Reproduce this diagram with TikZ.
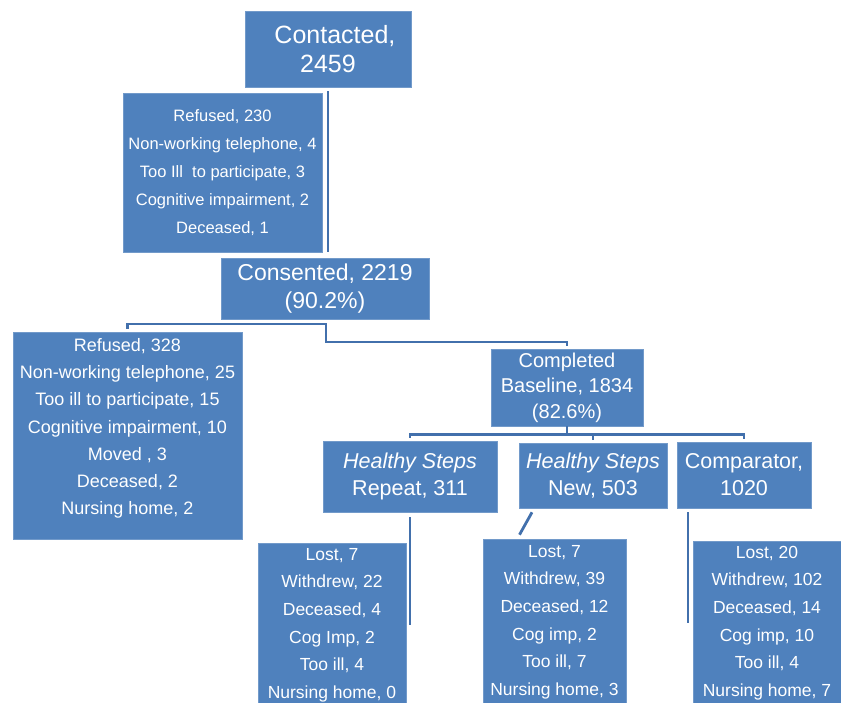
\documentclass[tikz,border=0pt]{standalone}
\usepackage{xcolor}
\usepackage{fontspec}
\setmainfont{Liberation Sans}
\definecolor{boxblue}{HTML}{4F81BD}
\definecolor{lineblue}{HTML}{4270AC}
\newcommand{\fs}[2]{\fontsize{#1}{#2}\selectfont}

\begin{document}
\begin{tikzpicture}[x=1pt,y=-1pt,
      box/.style={rectangle,fill=boxblue,draw=boxblue!80!white,line width=0.6pt,
        text=white,align=center,inner sep=0pt},
      link/.style={draw=lineblue,line width=2.8pt}]
      \useasboundingbox (0,0) rectangle (841,703);
      \begin{scope}
      \clip (0,0) rectangle (841,703);
      % top of the flow
      \node[box,minimum width=166,minimum height=76,font=\fs{25}{29}] (contacted) at (328,49) {\ \ Contacted,\\2459};
      \node[box,minimum width=199,minimum height=159,font=\fs{16.5}{28}] (lossA) at (222.5,172.5)
        {Refused, 230\\Non-working telephone, 4\\Too Ill\ \ to participate, 3\\Cognitive impairment, 2\\Deceased, 1};
      \node[box,minimum width=208,minimum height=61,font=\fs{23}{28}] (consented) at (325,288.5) {Consented, 2219\\(90.2\%)};
      \node[box,minimum width=229,minimum height=207,font=\fs{18}{27.2}] (lossB) at (127.5,435.5)
        {Refused, 328\\Non-working telephone, 25\\Too ill to participate, 15\\Cognitive impairment, 10\\Moved , 3\\Deceased, 2\\Nursing home, 2\rule[-18pt]{0pt}{18pt}};
      \node[box,minimum width=152,minimum height=77,font=\fs{20}{25.5}] (baseline) at (567,387.5) {Completed\\Baseline, 1834\\(82.6\%)};
      % study groups
      \node[box,minimum width=174,minimum height=71,font=\fs{21.5}{27}] (repeat) at (410,476.5) {\textit{Healthy Steps}\\Repeat, 311};
      \node[box,minimum width=148,minimum height=65,font=\fs{21.5}{27}] (new) at (593,475.5) {\textit{Healthy Steps}\\New, 503};
      \node[box,minimum width=134,minimum height=66,font=\fs{21.5}{27}] (comparator) at (744,475) {Comparator,\\1020};
      % losses per group
      \node[box,minimum width=148,minimum height=164,font=\fs{17.5}{27.6}] (lossR) at (332,625)
        {Lost, 7\\Withdrew, 22\\Deceased, 4\\Cog Imp, 2\\Too ill, 4\\Nursing home, 0};
      \node[box,minimum width=143,minimum height=166,font=\fs{17.5}{27.6}] (lossN) at (554.5,622)
        {Lost, 7\\Withdrew, 39\\Deceased, 12\\Cog imp, 2\\Too ill, 7\\Nursing home, 3};
      \node[box,minimum width=148,minimum height=164,font=\fs{17.5}{27.6}] (lossC) at (767,623)
        {Lost, 20\\Withdrew, 102\\Deceased, 14\\Cog imp, 10\\Too ill, 4\\Nursing home, 7};
      % connectors
      \coordinate (split1) at (326,324);
      \draw[link] ([yshift=-4pt]contacted.south) -- ([yshift=6pt]contacted.south |- consented.north);
      \draw[link] ([yshift=3pt]lossB.north) |- (split1) -- (326,342) -| ([yshift=3pt]baseline.north);
      \draw[link] (baseline.south) -- ++(0,9);
      \draw[link] ([yshift=3pt]repeat.north) -- ++(0,-3.5) -| ([yshift=3pt]comparator.north);
      \draw[link] ([yshift=3pt]new.north) -- ++(0,-4);
      \draw[link] ([yshift=-5pt]repeat.south) -- (repeat.south |- lossR.center);
      \draw[link] ([shift={(-61pt,-4pt)}]new.south) -- ([shift={(-35pt,4pt)}]lossN.north);
      \draw[link] ([shift={(-56pt,-4pt)}]comparator.south) -- ([xshift=-56pt]comparator.south |- lossC.center);
      \end{scope}
\end{tikzpicture}
\end{document}
